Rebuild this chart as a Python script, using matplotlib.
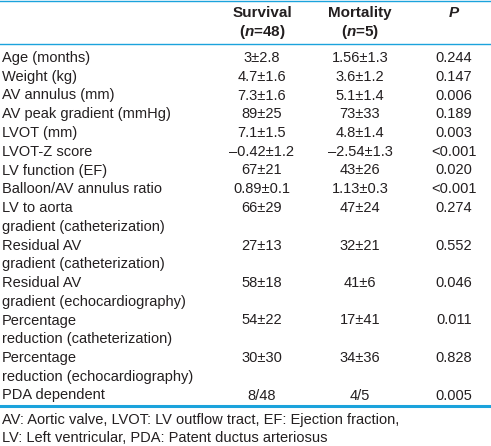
import matplotlib.pyplot as plt

plt.rcParams["font.family"] = ["Liberation Sans", "DejaVu Sans"]
plt.rcParams["mathtext.fontset"] = "custom"
plt.rcParams["mathtext.it"] = "Liberation Sans:italic:bold"
plt.rcParams["mathtext.rm"] = "Liberation Sans:bold"

labels = [
    "Age (months)",
    "Weight (kg)",
    "AV annulus (mm)",
    "AV peak gradient (mmHg)",
    "LVOT (mm)",
    "LVOT-Z score",
    "LV function (EF)",
    "Balloon/AV annulus ratio",
    "LV to aorta\ngradient (catheterization)",
    "Residual AV\ngradient (catheterization)",
    "Residual AV\ngradient (echocardiography)",
    "Percentage\nreduction (catheterization)",
    "Percentage\nreduction (echocardiography)",
    "PDA dependent",
]
survival = ["3\u00b12.8", "4.7\u00b11.6", "7.3\u00b11.6", "89\u00b125", "7.1\u00b11.5",
            "\u20130.42\u00b11.2", "67\u00b121", "0.89\u00b10.1", "66\u00b129", "27\u00b113",
            "58\u00b118", "54\u00b122", "30\u00b130", "8/48"]
mortality = ["1.56\u00b11.3", "3.6\u00b11.2", "5.1\u00b11.4", "73\u00b133", "4.8\u00b11.4",
             "\u20132.54\u00b11.3", "43\u00b126", "1.13\u00b10.3", "47\u00b124", "32\u00b121",
             "41\u00b16", "17\u00b141", "34\u00b136", "4/5"]
p_values = ["0.244", "0.147", "0.006", "0.189", "0.003", "<0.001", "0.020", "<0.001",
            "0.274", "0.552", "0.046", "0.011", "0.828", "0.005"]
footnote = ["AV: Aortic valve, LVOT: LV outflow tract, EF: Ejection fraction,",
            "LV: Left ventricular, PDA: Patent ductus arteriosus"]

W, H = 491, 446
fig = plt.figure(figsize=(W / 100, H / 100), dpi=100)
ax = fig.add_axes([0, 0, 1, 1])
ax.set_xlim(0, W)
ax.set_ylim(H, 0)
ax.axis("off")

blue = "#1ba3dc"
txt = "#231f20"
fs = 10.5
fs_head = 11
col_x = [262, 360, 454]
line_h = 18.75

# rules
ax.axhline(1, color=blue, lw=1.0)
ax.axhline(43.5, color=blue, lw=1.0)
ax.axhline(406, color=blue, lw=2.2)

# header
ax.text(col_x[0], 13, "Survival", ha="center", va="center", fontsize=fs_head, fontweight="bold", color=txt)
ax.text(col_x[0], 32, r"($\mathit{n}$=48)", ha="center", va="center", fontsize=fs_head, fontweight="bold", color=txt)
ax.text(col_x[1], 13, "Mortality", ha="center", va="center", fontsize=fs_head, fontweight="bold", color=txt)
ax.text(col_x[1], 32, r"($\mathit{n}$=5)", ha="center", va="center", fontsize=fs_head, fontweight="bold", color=txt)
ax.text(col_x[2], 13, "P", ha="center", va="center", fontsize=fs_head, fontweight="bold", style="italic", color=txt)

# body
y = 58
for lab, s, m, p in zip(labels, survival, mortality, p_values):
    parts = lab.split("\n")
    for i, part in enumerate(parts):
        ax.text(2, y + i * line_h, part, ha="left", va="center", fontsize=fs, color=txt)
    ax.text(col_x[0], y, s, ha="center", va="center", fontsize=fs, color=txt)
    ax.text(col_x[1], y, m, ha="center", va="center", fontsize=fs, color=txt)
    ax.text(col_x[2], y, p, ha="center", va="center", fontsize=fs, color=txt)
    y += line_h * len(parts)

for i, line in enumerate(footnote):
    ax.text(2, 420 + i * 17.5, line, ha="left", va="center", fontsize=fs, color=txt)

fig.savefig("out.png", dpi=100)
